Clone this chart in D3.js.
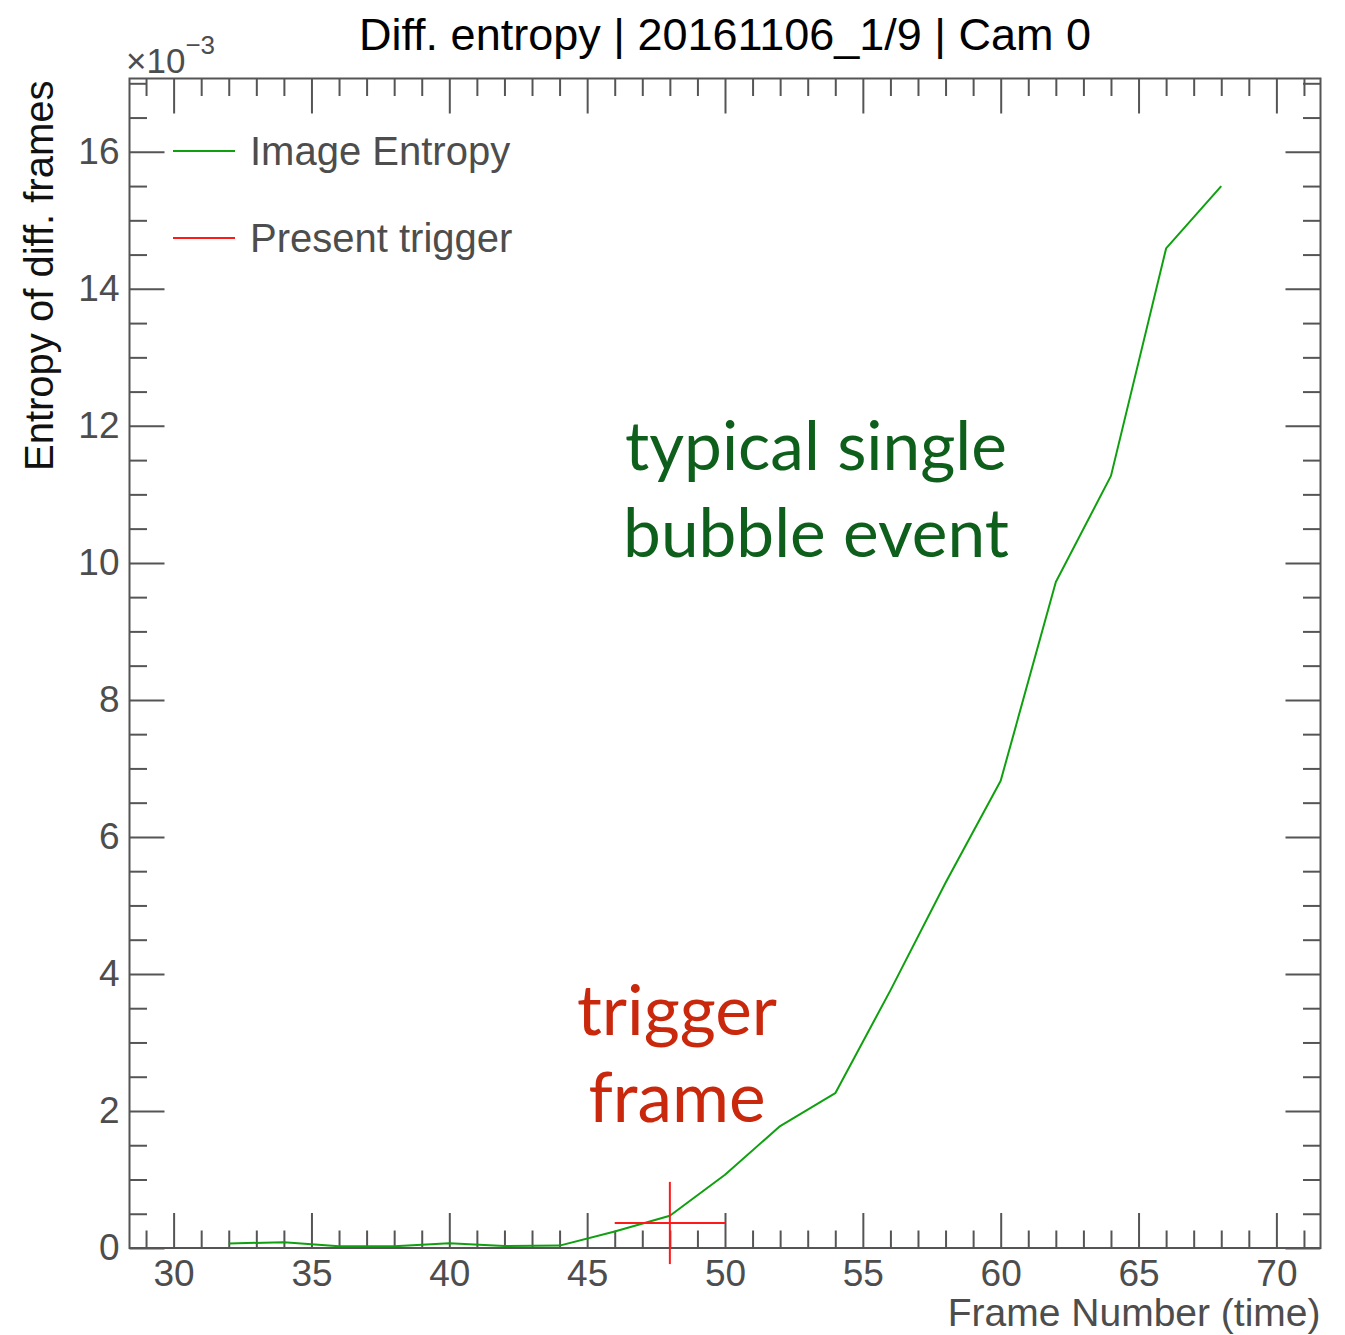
<!DOCTYPE html>
<html>
<head>
<meta charset="utf-8">
<script src="https://cdn.jsdelivr.net/npm/d3@7/dist/d3.min.js"></script>
<style>
  html, body { margin: 0; padding: 0; background: #fff; }
  svg { display: block; }
</style>
</head>
<body>
<svg id="chart" width="1345" height="1335"></svg>
<script>
// Frame numbers and the image entropy of each difference frame (units of 1e-3)
const frames = [32, 34, 36, 38, 40, 42, 44, 46, 48, 50, 52, 54, 56, 58, 60, 62, 64, 66, 68];
const entropy = [0.065, 0.085, 0.025, 0.025, 0.07, 0.03, 0.035, 0.24, 0.47, 1.07, 1.78, 2.26,
                 3.76, 5.33, 6.82, 9.72, 11.27, 14.59, 15.50];

// Trigger frame marker: position and error half-widths
const triggerFrame = [48];
const triggerValue = [0.365];
const triggerErrX = [2];
const triggerErrY = [0.6];

// Axis ticks
const xMajorTicks = [30, 35, 40, 45, 50, 55, 60, 65, 70];
const yMajorTicks = [0, 2, 4, 6, 8, 10, 12, 14, 16];

const titleText = "Diff. entropy | 20161106_1/9 | Cam 0";
const xTitle = "Frame Number (time)";
const yTitle = "Entropy of diff. frames";
const legendLabels = ["Image Entropy", "Present trigger"];
const noteEvent = ["typical single", "bubble event"];
const noteTrigger = ["trigger", "frame"];

const svg = d3.select("#chart");
const plotLeft = 129.5, plotRight = 1320.5, plotTop = 78.5, plotBottom = 1248;
const axisColor = "#555555";
const labelColor = "#4d4d4d";
const sans = "'Liberation Sans', Arial, Helvetica, sans-serif";

const x = d3.scaleLinear().domain([28.4, 71.6]).range([plotLeft, plotRight]);
const y = d3.scaleLinear().domain([0, 17.07]).range([plotBottom, plotTop]);

const xMinor = d3.range(29, 72, 1).filter(v => !xMajorTicks.includes(v));
const yMinor = d3.range(0.5, 17.01, 0.5).filter(v => !yMajorTicks.includes(v));

const majorLen = 35, minorLen = 17.5;

function styleAxis(g) {
  g.select(".domain").remove();
  g.selectAll(".tick line").attr("stroke", axisColor).attr("stroke-width", 2);
  g.selectAll(".tick text").attr("fill", labelColor)
    .style("font-family", sans).style("font-size", "37px");
}

// bottom axis
svg.append("g").attr("transform", `translate(0,${plotBottom})`)
  .call(d3.axisBottom(x).tickValues(xMajorTicks).tickSizeInner(-majorLen).tickSizeOuter(0)
    .tickPadding(12).tickFormat(d3.format("d")))
  .call(styleAxis);
svg.append("g").attr("transform", `translate(0,${plotBottom})`)
  .call(d3.axisBottom(x).tickValues(xMinor).tickSizeInner(-minorLen).tickSizeOuter(0).tickFormat(""))
  .call(styleAxis);

// top axis
svg.append("g").attr("transform", `translate(0,${plotTop})`)
  .call(d3.axisTop(x).tickValues(xMajorTicks).tickSizeInner(-majorLen).tickSizeOuter(0).tickFormat(""))
  .call(styleAxis);
svg.append("g").attr("transform", `translate(0,${plotTop})`)
  .call(d3.axisTop(x).tickValues(xMinor).tickSizeInner(-minorLen).tickSizeOuter(0).tickFormat(""))
  .call(styleAxis);

// left axis
svg.append("g").attr("transform", `translate(${plotLeft},0)`)
  .call(d3.axisLeft(y).tickValues(yMajorTicks).tickSizeInner(-majorLen).tickSizeOuter(0)
    .tickPadding(10).tickFormat(d3.format("d")))
  .call(styleAxis);
svg.append("g").attr("transform", `translate(${plotLeft},0)`)
  .call(d3.axisLeft(y).tickValues(yMinor).tickSizeInner(-minorLen).tickSizeOuter(0).tickFormat(""))
  .call(styleAxis);

// right axis
svg.append("g").attr("transform", `translate(${plotRight},0)`)
  .call(d3.axisRight(y).tickValues(yMajorTicks).tickSizeInner(-majorLen).tickSizeOuter(0).tickFormat(""))
  .call(styleAxis);
svg.append("g").attr("transform", `translate(${plotRight},0)`)
  .call(d3.axisRight(y).tickValues(yMinor).tickSizeInner(-minorLen).tickSizeOuter(0).tickFormat(""))
  .call(styleAxis);

// frame
svg.append("rect")
  .attr("x", plotLeft).attr("y", plotTop)
  .attr("width", plotRight - plotLeft).attr("height", plotBottom - plotTop)
  .attr("fill", "none").attr("stroke", axisColor).attr("stroke-width", 2);

// entropy curve
const lineGen = d3.line().x((d, i) => x(frames[i])).y(d => y(d));
svg.append("path")
  .datum(entropy)
  .attr("d", lineGen)
  .attr("fill", "none")
  .attr("stroke", "#0fa00f")
  .attr("stroke-width", 2)
  .attr("stroke-linejoin", "round");

// trigger marker with error bars
const trig = svg.append("g").attr("stroke", "#ff1a1a").attr("stroke-width", 2);
triggerFrame.forEach((f, i) => {
  trig.append("line")
    .attr("x1", x(f - triggerErrX[i])).attr("x2", x(f + triggerErrX[i]))
    .attr("y1", y(triggerValue[i])).attr("y2", y(triggerValue[i]));
  trig.append("line")
    .attr("x1", x(f)).attr("x2", x(f))
    .attr("y1", y(triggerValue[i] + triggerErrY[i])).attr("y2", y(triggerValue[i] - triggerErrY[i]));
});

// title
svg.append("text")
  .attr("x", (plotLeft + plotRight) / 2).attr("y", 50)
  .attr("text-anchor", "middle")
  .style("font-family", sans).style("font-size", "45px").attr("fill", "#000")
  .text(titleText);

// exponent label
const expo = svg.append("text")
  .attr("x", 126).attr("y", 73)
  .style("font-family", sans).style("font-size", "35px").attr("fill", labelColor);
expo.append("tspan").text("\u00d710");
expo.append("tspan").attr("dy", -19).style("font-size", "26px").text("\u22123");

// axis titles
svg.append("text")
  .attr("x", plotRight).attr("y", 1326)
  .attr("text-anchor", "end")
  .style("font-family", sans).style("font-size", "39px").attr("fill", labelColor)
  .text(xTitle);

svg.append("text")
  .attr("transform", `translate(53,${plotTop + 2}) rotate(-90)`)
  .attr("text-anchor", "end")
  .style("font-family", sans).style("font-size", "40px").attr("fill", "#111")
  .text(yTitle);

// legend
const legendColors = ["#0fa00f", "#ff1a1a"];
const legendY = [151, 238];
legendLabels.forEach((lab, i) => {
  svg.append("line")
    .attr("x1", 173).attr("x2", 235)
    .attr("y1", legendY[i]).attr("y2", legendY[i])
    .attr("stroke", legendColors[i]).attr("stroke-width", 2);
  svg.append("text")
    .attr("x", 250).attr("y", legendY[i] + 14)
    .style("font-family", sans).style("font-size", "40px").attr("fill", labelColor)
    .text(lab);
});

// annotations, sized so that the first line spans the wanted width
function note(lines, cx, baselines, width, color) {
  const g = svg.append("g");
  const texts = lines.map((t, i) => g.append("text")
    .attr("x", cx).attr("y", baselines[i])
    .attr("text-anchor", "middle")
    .style("font-family", "Lato, 'Open Sans', sans-serif")
    .style("font-size", "60px")
    .attr("fill", color)
    .text(t));
  const w = texts[0].node().getComputedTextLength();
  const fs = 60 * width / w;
  texts.forEach(t => t.style("font-size", fs + "px"));
}
note(noteEvent, 816, [470, 557], 382, "#0e5f1b");
note(noteTrigger, 677, [1035, 1122], 200, "#c9280c");
</script>
</body>
</html>
